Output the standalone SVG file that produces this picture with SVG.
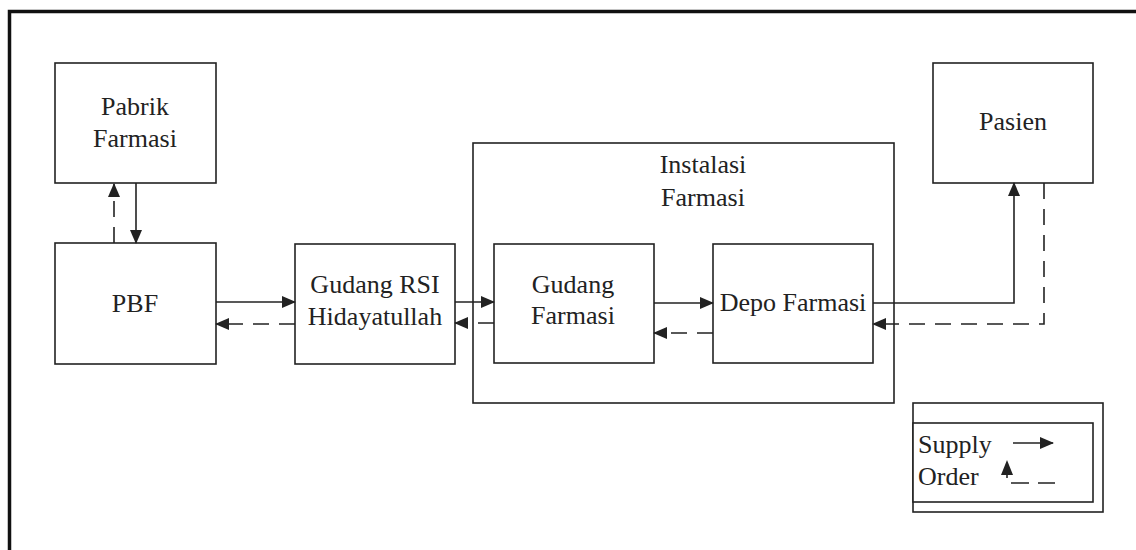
<svg xmlns="http://www.w3.org/2000/svg" width="1136" height="550" viewBox="0 0 1136 550">
<style>
.box{fill:#fff;stroke:#222;stroke-width:1.6}
.t{font-family:"Liberation Serif","Times New Roman",serif;font-size:26px;fill:#222;text-anchor:middle}
.ln{fill:none;stroke:#222;stroke-width:1.6}
.d{stroke-dasharray:16 10}
</style>
<defs>
<marker id="ah" markerUnits="userSpaceOnUse" markerWidth="14" markerHeight="12" refX="13" refY="6" orient="auto">
<path d="M0,0 L14,6 L0,12 Z" fill="#222"/>
</marker>
</defs>
<rect width="1136" height="550" fill="#fff"/>
<path d="M9.5,550 V11.5 H1136" fill="none" stroke="#111" stroke-width="3.5"/>

<g id="instalasi">
<rect class="box" x="473" y="143" width="421" height="260"/>
<text class="t" x="703" y="173">Instalasi</text>
<text class="t" x="703" y="206">Farmasi</text>
</g>
<g id="pabrik">
<rect class="box" x="55" y="63" width="161" height="120"/>
<text class="t" x="135" y="115">Pabrik</text>
<text class="t" x="135" y="147">Farmasi</text>
</g>
<g id="pbf">
<rect class="box" x="55" y="243" width="161" height="121"/>
<text class="t" x="135" y="312">PBF</text>
</g>
<g id="gudang-rsi">
<rect class="box" x="295" y="244" width="160" height="120"/>
<text class="t" x="375" y="293">Gudang RSI</text>
<text class="t" x="375" y="325">Hidayatullah</text>
</g>
<g id="gudang-farmasi">
<rect class="box" x="494" y="244" width="160" height="119"/>
<text class="t" x="573" y="293">Gudang</text>
<text class="t" x="573" y="324">Farmasi</text>
</g>
<g id="depo">
<rect class="box" x="713" y="244" width="160" height="119"/>
<text class="t" x="793" y="311">Depo Farmasi</text>
</g>
<g id="pasien">
<rect class="box" x="933" y="63" width="160" height="120"/>
<text class="t" x="1013" y="130">Pasien</text>
</g>

<g id="connectors">
<path class="ln d" d="M114,243 V184" marker-end="url(#ah)"/>
<path class="ln" d="M136,183 V243" marker-end="url(#ah)"/>
<path class="ln" d="M216,302 H295" marker-end="url(#ah)"/>
<path class="ln d" d="M295,324 H216" marker-end="url(#ah)"/>
<path class="ln" d="M455,302 H494" marker-end="url(#ah)"/>
<path class="ln d" d="M494,323 H455" marker-end="url(#ah)"/>
<path class="ln" d="M654,303 H713" marker-end="url(#ah)"/>
<path class="ln d" d="M713,333 H654" marker-end="url(#ah)"/>
<path class="ln" d="M873,303 H1014 V183" marker-end="url(#ah)"/>
<path class="ln d" d="M1044,183 V324 H873" marker-end="url(#ah)"/>
</g>

<g id="legend">
<rect class="box" x="913" y="403" width="190" height="109"/>
<rect class="box" x="913" y="423" width="180" height="79"/>
<text class="t" x="918" y="453" style="text-anchor:start">Supply</text>
<text class="t" x="918" y="485" style="text-anchor:start">Order</text>
<path class="ln" d="M1013,443 H1053" marker-end="url(#ah)"/>
<path d="M1007,460 L1013,475 L1001,475 Z" fill="#222"/>
<path class="ln" d="M1007,474 V478"/>
<path class="ln" d="M1011,483 H1029 M1038,483 H1055"/>
</g>
</svg>
